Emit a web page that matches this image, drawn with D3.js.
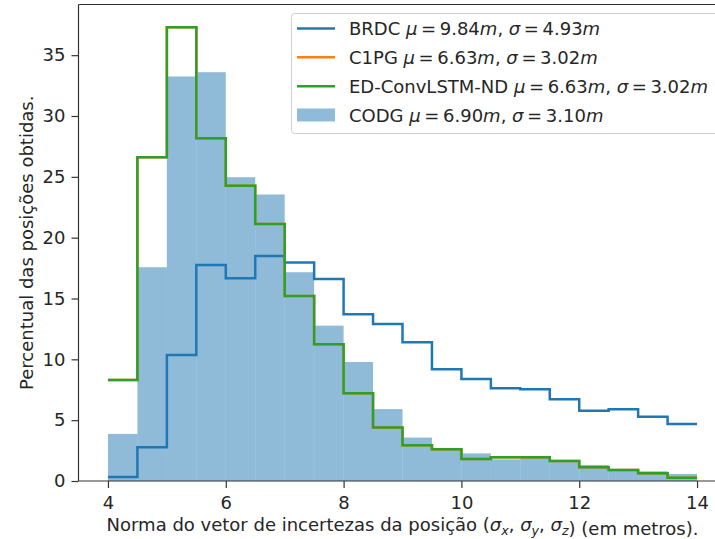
<!DOCTYPE html>
<html>
<head>
<meta charset="utf-8">
<script src="https://cdn.jsdelivr.net/npm/d3@7"></script>
<style>
body { margin: 0; background: #fff; }
text { font-family: "DejaVu Sans", sans-serif; fill: #262626; }
</style>
</head>
<body>
<div id="chart-area"></div>
<script>
// histogram bins (metres) and percentages per bin
var binEdges = [4, 4.5, 5, 5.5, 6, 6.5, 7, 7.5, 8, 8.5, 9, 9.5, 10, 10.5, 11, 11.5, 12, 12.5, 13, 13.5, 14]
var brdc = [0.33, 2.77, 10.36, 17.76, 16.67, 18.5, 17.95, 16.6, 13.7, 12.9, 11.4, 9.18, 8.39, 7.62, 7.54, 6.72, 5.78, 5.89, 5.29, 4.69]
var c1pg = [8.3, 26.6, 37.3, 28.18, 24.26, 21.13, 15.2, 11.24, 7.21, 4.39, 2.93, 2.6, 1.81, 1.95, 1.95, 1.64, 1.13, 0.9, 0.63, 0.27]
var edConv = [8.3, 26.6, 37.3, 28.18, 24.26, 21.13, 15.2, 11.24, 7.21, 4.39, 2.93, 2.6, 1.81, 1.95, 1.95, 1.64, 1.13, 0.9, 0.63, 0.27]
var codg = [3.87, 17.57, 33.25, 33.6, 24.97, 23.55, 17.16, 12.77, 9.78, 5.91, 3.57, 2.69, 2.27, 1.78, 1.9, 1.72, 1.32, 0.96, 0.8, 0.58]
var xTicks = [4, 6, 8, 10, 12, 14]
var yTicks = [0, 5, 10, 15, 20, 25, 30, 35]

var legendItems = [
    {name: 'BRDC', mu: '9.84', sigma: '4.93', color: '#1f77b4', type: 'line'},
    {name: 'C1PG', mu: '6.63', sigma: '3.02', color: '#ff7f0e', type: 'line'},
    {name: 'ED-ConvLSTM-ND', mu: '6.63', sigma: '3.02', color: '#2ca02c', type: 'line'},
    {name: 'CODG', mu: '6.90', sigma: '3.10', color: '#1f77b4', type: 'patch'}
]

var width = 715, height = 539
var plotLeft = 78.5, plotRight = 726.5, plotTop = 4.5, plotBottom = 481
var fontSize = 18

var svg = d3.select("#chart-area").append("svg")
    .attr("width", width)
    .attr("height", height)

var x = d3.scaleLinear()
    .domain([3.5, 14.5])
    .range([plotLeft, plotRight])

var yMax = d3.max([d3.max(brdc), d3.max(c1pg), d3.max(edConv), d3.max(codg)]) * 1.05
var y = d3.scaleLinear()
    .domain([0, yMax])
    .range([plotBottom, plotTop])

// CODG filled bars
var bins = codg.map((v, i) => ({x0: binEdges[i], x1: binEdges[i + 1], value: v}))

svg.selectAll('rect.bar')
    .data(bins)
    .enter()
    .append('rect')
    .attr('class', 'bar')
    .attr('x', d => x(d.x0))
    .attr('y', d => y(d.value))
    .attr('width', d => x(d.x1) - x(d.x0))
    .attr('height', d => y(0) - y(d.value))
    .attr('fill', '#1f77b4')
    .attr('fill-opacity', 0.5)

// step outlines
var stepLine = d3.line()
    .x(d => x(d[0]))
    .y(d => y(d[1]))
    .curve(d3.curveStepAfter)

function stepPoints(values) {
    var pts = values.map((v, i) => [binEdges[i], v])
    pts.push([binEdges[values.length], values[values.length - 1]])
    return pts
}

var series = [
    {values: brdc, color: '#1f77b4'},
    {values: c1pg, color: '#ff7f0e'},
    {values: edConv, color: '#2ca02c'}
]

svg.selectAll('path.step')
    .data(series)
    .enter()
    .append('path')
    .attr('class', 'step')
    .attr('d', d => stepLine(stepPoints(d.values)))
    .attr('fill', 'none')
    .attr('stroke', d => d.color)
    .attr('stroke-width', 2.5)
    .attr('stroke-linejoin', 'miter')

// axes
svg.append('g')
    .attr('transform', 'translate(0,' + plotBottom + ')')
    .call(d3.axisBottom(x).tickValues(xTicks).tickFormat(d3.format('d')).tickSizeOuter(0).tickSize(7).tickPadding(8))
svg.append('g')
    .attr('transform', 'translate(' + plotLeft + ',0)')
    .call(d3.axisLeft(y).tickValues(yTicks).tickFormat(d3.format('d')).tickSizeOuter(0).tickSize(7).tickPadding(6))

svg.selectAll('.domain').remove()
svg.selectAll('.tick line').attr('stroke', '#333').attr('stroke-width', 1.2)
svg.selectAll('.tick text')
    .style('font-family', 'DejaVu Sans')
    .style('font-size', fontSize + 'px')
    .attr('fill', '#262626')

// spines
var spines = [
    [plotLeft, plotTop, plotLeft, plotBottom],
    [plotLeft, plotBottom, plotRight, plotBottom],
    [plotLeft, plotTop, plotRight, plotTop],
    [plotRight, plotTop, plotRight, plotBottom]
]
svg.selectAll('line.spine')
    .data(spines)
    .enter()
    .append('line')
    .attr('class', 'spine')
    .attr('x1', d => d[0]).attr('y1', d => d[1])
    .attr('x2', d => d[2]).attr('y2', d => d[3])
    .attr('stroke', '#333')
    .attr('stroke-width', 1.2)

// axis labels
var xLabel = svg.append('text')
    .attr('x', (plotLeft + plotRight) / 2)
    .attr('y', 531)
    .attr('text-anchor', 'middle')
    .style('font-size', fontSize + 'px')
xLabel.append('tspan').text('Norma do vetor de incertezas da posição (')
var subs = ['x', 'y', 'z']
subs.forEach((s, i) => {
    xLabel.append('tspan').attr('font-style', 'italic').text('σ')
    xLabel.append('tspan').attr('font-style', 'italic').attr('font-size', (fontSize * 0.7) + 'px')
        .attr('dy', 3.5).text(s)
    xLabel.append('tspan').attr('dy', -3.5).text(i < 2 ? ', ' : '')
})
xLabel.append('tspan').text(') (em metros).')

svg.append('text')
    .attr('transform', 'translate(33,' + ((plotTop + plotBottom) / 2) + ') rotate(-90)')
    .attr('text-anchor', 'middle')
    .style('font-size', fontSize + 'px')
    .text('Percentual das posições obtidas.')

// legend
var legend = svg.append('g')
legend.append('rect')
    .attr('x', 291.5)
    .attr('y', 13.5)
    .attr('width', 430)
    .attr('height', 120)
    .attr('rx', 3)
    .attr('fill', '#fff')
    .attr('fill-opacity', 0.8)
    .attr('stroke', '#d0d0d0')
    .attr('stroke-width', 1)

var rowY = d3.scaleLinear().domain([0, 3]).range([28.5, 115])

var rows = legend.selectAll('g.row')
    .data(legendItems)
    .enter()
    .append('g')
    .attr('class', 'row')
    .attr('transform', (d, i) => 'translate(0,' + rowY(i) + ')')

rows.filter(d => d.type === 'line')
    .append('line')
    .attr('x1', 297)
    .attr('x2', 335)
    .attr('stroke', d => d.color)
    .attr('stroke-width', 2.5)

rows.filter(d => d.type === 'patch')
    .append('rect')
    .attr('x', 297)
    .attr('y', -6.5)
    .attr('width', 38)
    .attr('height', 13)
    .attr('fill', d => d.color)
    .attr('fill-opacity', 0.5)

var labels = rows.append('text')
    .attr('x', 349)
    .attr('y', 6.5)
    .style('font-size', fontSize + 'px')
labels.append('tspan').text(d => d.name + ' ')
labels.append('tspan').attr('font-style', 'italic').text('μ')
labels.append('tspan').text(d => '\u2009=\u2009' + d.mu)
labels.append('tspan').attr('font-style', 'italic').text('m')
labels.append('tspan').text(', ')
labels.append('tspan').attr('font-style', 'italic').text('σ')
labels.append('tspan').text(d => '\u2009=\u2009' + d.sigma)
labels.append('tspan').attr('font-style', 'italic').text('m')
</script>
</body>
</html>
